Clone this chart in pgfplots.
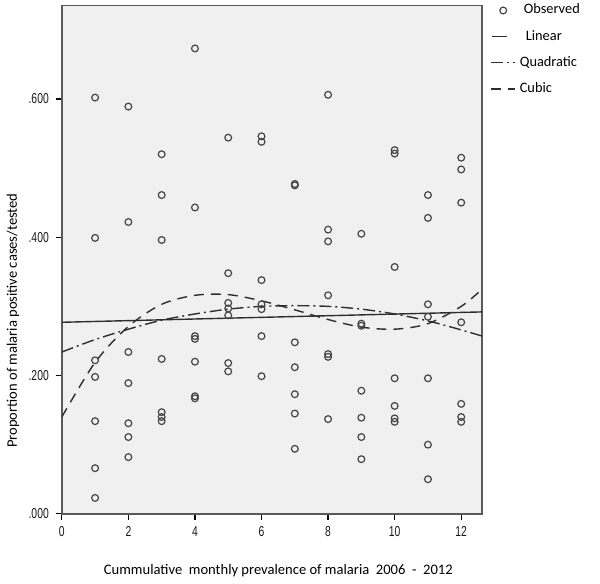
\documentclass[border=0pt]{standalone}
\usepackage{fontspec}
\setmainfont{Carlito}
\newfontfamily\ticknarrow[FakeStretch=0.72]{Liberation Sans}
\usepackage{pgfplots}
\pgfplotsset{compat=1.18}
\definecolor{plotbg}{HTML}{F0F0F0}
\definecolor{markgray}{HTML}{454545}
\definecolor{linegray}{HTML}{2E2E2E}
\definecolor{framegray}{HTML}{5A5A5A}

% observed proportions, 7 per month
\pgfplotstableread{
x y
1 .602
1 .399
1 .222
1 .198
1 .134
1 .066
1 .023
2 .589
2 .422
2 .234
2 .189
2 .131
2 .111
2 .082
3 .520
3 .461
3 .396
3 .224
3 .147
3 .140
3 .134
4 .673
4 .443
4 .257
4 .253
4 .220
4 .170
4 .167
5 .544
5 .348
5 .305
5 .297
5 .287
5 .218
5 .206
6 .546
6 .538
6 .338
6 .303
6 .296
6 .257
6 .199
7 .477
7 .475
7 .248
7 .212
7 .173
7 .145
7 .094
8 .606
8 .411
8 .394
8 .316
8 .231
8 .227
8 .137
9 .405
9 .275
9 .272
9 .178
9 .139
9 .111
9 .079
10 .526
10 .521
10 .357
10 .196
10 .156
10 .138
10 .133
11 .461
11 .428
11 .303
11 .285
11 .196
11 .100
11 .050
12 .515
12 .498
12 .450
12 .277
12 .159
12 .140
12 .133
}\observed

\pgfplotsset{
  markleg/.style={legend image code/.code={\draw[##1, mark repeat=2, mark phase=2]
    plot coordinates {(0cm,0cm) (0.21cm,0cm) (0.42cm,0cm)};}},
  shortleg/.style={legend image code/.code={\draw[##1] (0.02cm,0cm) -- (0.27cm,0cm);}},
}

\begin{document}
\begin{tikzpicture}
\begin{axis}[
  name=ax,
  scale only axis,
  width=210.5pt, height=254.5pt,
  xmin=0, xmax=12.63, ymin=0, ymax=0.735,
  xtick={0,2,...,12},
  ytick={0,0.2,0.4,0.6},
  yticklabels={.000,.200,.400,.600},
  tick align=outside, tick pos=left,
  major tick length=3pt,
  every tick/.style={black, line width=0.6pt},
  axis background/.style={fill=plotbg},
  axis line style={draw=framegray, line width=0.9pt},
  /pgf/number format/assume math mode=true,
  tick label style={font=\ticknarrow\fontsize{7.2}{8}\selectfont, black!90},
  label style={font=\fontsize{7.3}{9}\selectfont},
  xlabel={Cummulative\ \ monthly prevalence of malaria\ \ 2006\ \ -\ \ 2012},
  ylabel={Proportion of malaria positive cases/tested},
  xlabel style={at={(axis description cs:0.515,-0.12)}, anchor=base},
  ylabel style={at={(axis description cs:-0.1164,0.38)}, anchor=center},
  legend style={at={(axis description cs:1,1)}, anchor=north west,
    xshift=4pt, yshift=3pt, draw=none, fill=none, inner sep=0pt,
    font=\fontsize{7.2}{9}\selectfont, row sep=2.6pt},
  legend cell align=left,
  legend image code/.code={\draw[#1] (0cm,0cm) -- (0.42cm,0cm);},
]
\addplot[only marks, mark=o, mark size=1.7pt, color=markgray,
  mark options={line width=0.6pt}, markleg]
  table {\observed};
\addlegendentry{\hspace{2pt}Observed}

\addplot[linegray, line width=0.7pt, shortleg]
  coordinates {(0,.277) (12.63,.292)};
\addlegendentry{\hspace{3pt}Linear}

\addplot[linegray, line width=0.7pt, smooth,
  dash pattern=on 6pt off 2pt on 1pt off 2pt] coordinates {
  (0,.234) (1,.252) (2,.267) (3,.280) (4,.289) (5,.296) (6,.300)
  (7,.301) (8,.300) (9,.296) (10,.289) (11,.279) (12,.266) (12.63,.257)};
\addlegendentry{Quadratic}

\addplot[linegray, line width=0.7pt, smooth,
  dash pattern=on 5pt off 3.5pt] coordinates {
  (0,.140) (1,.219) (2,.271) (3,.303) (4,.316) (5,.317) (6,.308)
  (7,.295) (8,.281) (9,.270) (10,.267) (11,.275) (12,.300) (12.63,.325)};
\addlegendentry{Cubic}
\end{axis}
\path ([shift={(-30.5pt,-33.5pt)}]ax.south west)
  rectangle ([shift={(59pt,2.5pt)}]ax.north east);
\end{tikzpicture}
\end{document}
